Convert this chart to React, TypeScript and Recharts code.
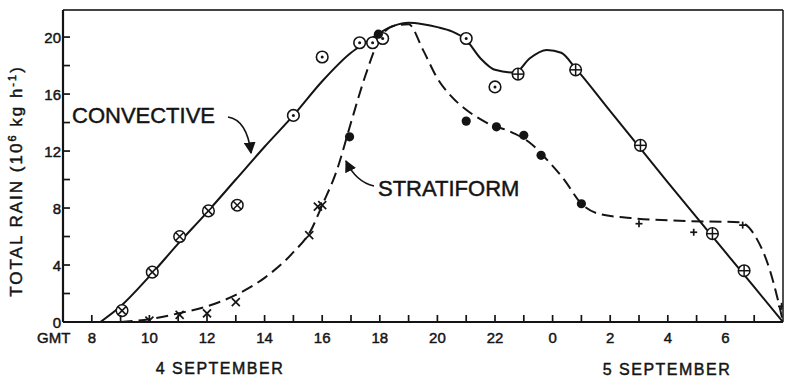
import React from "react";
import {
  ComposedChart,
  Line,
  Scatter,
  XAxis,
  YAxis,
  ReferenceLine,
} from "recharts";

// hours since 00 GMT 4 September (24 = 00 GMT 5 September)
const convectiveCurve: [number, number][] = [
  [8.3, 0], [9, 1.1], [10, 3.2], [11, 5.5], [12, 7.7], [13, 10.0],
  [14, 12.3], [15, 14.5], [16, 16.9], [17, 18.9], [17.5, 19.6],
  [18, 20.3], [18.5, 20.8], [19, 21.0], [19.5, 20.9], [20, 20.7],
  [20.5, 20.4], [21, 19.8], [21.5, 18.5], [22, 17.7], [22.7, 17.5],
  [23.2, 18.5], [23.8, 19.1], [24.3, 18.9], [24.8, 17.8], [26, 14.8],
  [28, 9.8], [30, 4.9], [32, 0],
];

const stratiformCurve: [number, number][] = [
  [9, 0], [10, 0.2], [11, 0.6], [12, 1.1], [13, 1.9], [14, 3.1],
  [15, 4.9], [15.6, 6.4], [16, 8.2], [16.5, 10.6], [17, 14.0],
  [17.5, 17.3], [18, 19.9], [18.5, 20.8], [19, 20.9], [19.5, 19.1],
  [20, 17.1], [20.5, 15.8], [21, 14.9], [21.7, 14.0], [22.6, 13.3],
  [23.2, 12.6], [23.8, 11.4], [24.4, 10.0], [25, 8.3], [25.6, 7.6],
  [26.7, 7.3], [28.4, 7.1], [30.5, 7.0], [31.1, 5.8], [31.55, 3.6],
  [31.83, 1.5], [32, 0],
];

// convective observations, by symbol
const convectiveCrossed: [number, number][] = [
  [9.05, 0.8], [10.1, 3.5], [11.05, 6.0], [12.05, 7.8], [13.05, 8.2],
];
const convectiveDotted: [number, number][] = [
  [15.0, 14.5], [16.0, 18.6], [17.3, 19.6], [17.75, 19.6], [18.1, 19.9],
  [21.0, 19.9], [22.0, 16.5],
];
const convectivePlus: [number, number][] = [
  [22.8, 17.4], [24.8, 17.7], [27.05, 12.4], [29.55, 6.2], [30.65, 3.6],
];

// stratiform observations, by symbol
const stratiformFilled: [number, number][] = [
  [16.95, 13.0], [17.95, 20.2], [21.0, 14.1], [22.05, 13.7], [23.0, 13.1],
  [23.6, 11.7], [25.0, 8.3],
];
const stratiformCross: [number, number][] = [
  [10.0, 0.1], [11.05, 0.5], [12.0, 0.6], [13.0, 1.4], [15.55, 6.1],
  [15.85, 8.1], [16.0, 8.2],
];
const stratiformPlus: [number, number][] = [
  [27.0, 6.9], [28.9, 6.3], [30.6, 6.8], [31.95, 1.1],
];

const hourTicks = Array.from({ length: 24 }, (_, i) => i + 8);
const rainTicks = [0, 2, 4, 6, 8, 10, 12, 14, 16, 18, 20];

const X_MIN = 7;
const X_MAX = 32;
const Y_MAX = 21.9;

const W = 785;
const H = 378;
const INK = "#141414";
const FONT = "'Liberation Sans', Arial, sans-serif";

// slightly heavier type, like the original print
const textInk = { fill: INK, stroke: INK, strokeWidth: 0.45, fontFamily: FONT };

const pts = (arr: [number, number][]) => arr.map(([x, y]) => ({ x, y }));

const HourTick = (props: any) => {
  const { x, y, payload } = props;
  const h = payload.value as number;
  return (
    <g>
      <line x1={x} y1={y} x2={x} y2={y - 7} stroke={INK} strokeWidth={1.7} />
      {h % 2 === 0 && (
        <text x={x} y={y + 21} textAnchor="middle" fontSize={15} {...textInk}>
          {h % 24}
        </text>
      )}
    </g>
  );
};

const RainTick = (props: any) => {
  const { x, y, payload } = props;
  const v = payload.value as number;
  return (
    <g>
      <line x1={x} y1={y} x2={x + 7} y2={y} stroke={INK} strokeWidth={1.7} />
      {v % 4 === 0 && (
        <text x={x - 2} y={y + 5.5} textAnchor="end" fontSize={15} {...textInk}>
          {v}
        </text>
      )}
    </g>
  );
};

const DotCircle = ({ cx, cy }: any) => (
  <g>
    <circle cx={cx} cy={cy} r={5.8} fill="#fff" stroke={INK} strokeWidth={1.6} />
    <circle cx={cx} cy={cy} r={1.5} fill={INK} />
  </g>
);

const CrossCircle = ({ cx, cy }: any) => (
  <g stroke={INK} strokeWidth={1.5}>
    <circle cx={cx} cy={cy} r={5.8} fill="#fff" />
    <line x1={cx - 4} y1={cy - 4} x2={cx + 4} y2={cy + 4} />
    <line x1={cx - 4} y1={cy + 4} x2={cx + 4} y2={cy - 4} />
  </g>
);

const PlusCircle = ({ cx, cy }: any) => (
  <g stroke={INK} strokeWidth={1.5}>
    <circle cx={cx} cy={cy} r={5.8} fill="#fff" />
    <line x1={cx - 5.8} y1={cy} x2={cx + 5.8} y2={cy} />
    <line x1={cx} y1={cy - 5.8} x2={cx} y2={cy + 5.8} />
  </g>
);

const FilledDot = ({ cx, cy }: any) => <circle cx={cx} cy={cy} r={4.6} fill={INK} />;

const CrossMark = ({ cx, cy }: any) => (
  <g stroke={INK} strokeWidth={1.7}>
    <line x1={cx - 4} y1={cy - 4} x2={cx + 4} y2={cy + 4} />
    <line x1={cx - 4} y1={cy + 4} x2={cx + 4} y2={cy - 4} />
  </g>
);

const PlusMark = ({ cx, cy }: any) => (
  <g stroke={INK} strokeWidth={1.7}>
    <line x1={cx - 3.5} y1={cy} x2={cx + 3.5} y2={cy} />
    <line x1={cx} y1={cy - 3.5} x2={cx} y2={cy + 3.5} />
  </g>
);

const Annotations = () => (
  <svg
    width={W}
    height={H}
    style={{ position: "absolute", left: 0, top: 0, pointerEvents: "none" }}
  >
    <defs>
      <marker id="arrow" viewBox="0 0 10 10" refX="9" refY="5" markerWidth="7" markerHeight="7" orient="auto">
        <path d="M0,0 L10,5 L0,10 z" fill={INK} />
      </marker>
    </defs>
    <g {...textInk}>
      <text x={22} y={181} fontSize={17} letterSpacing={2} textAnchor="middle" transform="rotate(-90 22 181)">
        TOTAL RAIN (10<tspan fontSize={11} dy={-6}>6</tspan>
        <tspan dy={6}> kg h</tspan>
        <tspan fontSize={11} dy={-6}>-1</tspan>
        <tspan dy={6}>)</tspan>
      </text>
      <text x={37} y={343} fontSize={15}>GMT</text>
      <text x={220} y={374} fontSize={16} letterSpacing={1.5} textAnchor="middle">4 SEPTEMBER</text>
      <text x={667} y={375} fontSize={16} letterSpacing={1.5} textAnchor="middle">5 SEPTEMBER</text>
      <text x={72} y={123} fontSize={22}>CONVECTIVE</text>
      <text x={378} y={196} fontSize={22}>STRATIFORM</text>
    </g>
    <path d="M228,117 Q247,120 251,153" fill="none" stroke={INK} strokeWidth={1.7} markerEnd="url(#arrow)" />
    <path d="M374,186 Q356,182 346,161" fill="none" stroke={INK} strokeWidth={1.7} markerEnd="url(#arrow)" />
  </svg>
);

export default function App() {
  return (
    <div style={{ position: "absolute", left: 0, top: 0, width: W, height: H, background: "#fff" }}>
      <ComposedChart width={W} height={H} margin={{ top: 10, right: 2, left: 0, bottom: 0 }}>
        <XAxis
          type="number"
          dataKey="x"
          domain={[X_MIN, X_MAX]}
          ticks={hourTicks}
          interval={0}
          height={56}
          tickSize={0}
          tickMargin={0}
          tickLine={false}
          tick={(p: any) => <HourTick {...p} />}
          axisLine={{ stroke: INK, strokeWidth: 2.2 }}
          allowDataOverflow
        />
        <YAxis
          type="number"
          dataKey="y"
          domain={[0, Y_MAX]}
          ticks={rainTicks}
          interval={0}
          width={63}
          tickSize={0}
          tickMargin={0}
          tickLine={false}
          tick={(p: any) => <RainTick {...p} />}
          axisLine={{ stroke: INK, strokeWidth: 2.2 }}
          allowDataOverflow
        />
        <ReferenceLine y={Y_MAX} stroke="#444" strokeWidth={2.2} />
        <ReferenceLine x={X_MAX} stroke={INK} strokeWidth={1.5} />
        <Line
          data={pts(convectiveCurve)}
          dataKey="y"
          type="monotone"
          stroke={INK}
          strokeWidth={2}
          dot={false}
          isAnimationActive={false}
        />
        <Line
          data={pts(stratiformCurve)}
          dataKey="y"
          type="monotone"
          stroke={INK}
          strokeWidth={2}
          strokeDasharray="12 6"
          dot={false}
          isAnimationActive={false}
        />
        <Scatter data={pts(convectiveCrossed)} shape={<CrossCircle />} isAnimationActive={false} />
        <Scatter data={pts(convectiveDotted)} shape={<DotCircle />} isAnimationActive={false} />
        <Scatter data={pts(convectivePlus)} shape={<PlusCircle />} isAnimationActive={false} />
        <Scatter data={pts(stratiformFilled)} shape={<FilledDot />} isAnimationActive={false} />
        <Scatter data={pts(stratiformCross)} shape={<CrossMark />} isAnimationActive={false} />
        <Scatter data={pts(stratiformPlus)} shape={<PlusMark />} isAnimationActive={false} />
      </ComposedChart>
      <Annotations />
    </div>
  );
}
